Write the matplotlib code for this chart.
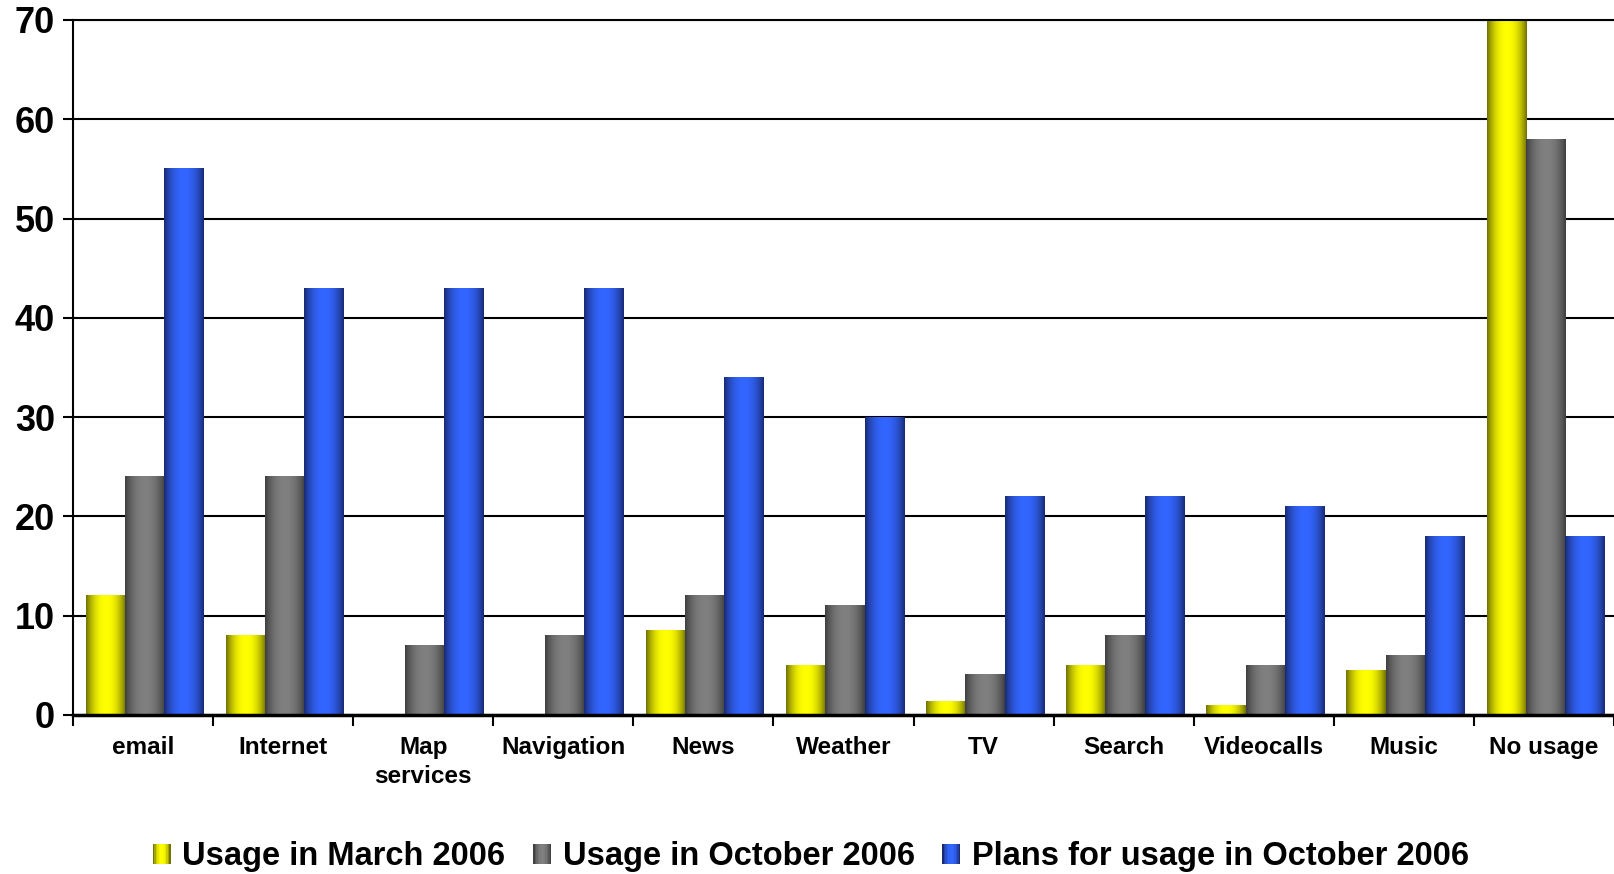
import numpy as np
import matplotlib
matplotlib.use("Agg")
import matplotlib.pyplot as plt
from matplotlib.patches import Rectangle
from matplotlib.legend_handler import HandlerBase
from matplotlib import font_manager

categories = ["email", "Internet", "Map\nservices", "Navigation", "News", "Weather",
              "TV", "Search", "Videocalls", "Music", "No usage"]
march_2006 = [12, 8, 0, 0, 8.5, 5, 1.4, 5, 1, 4.5, 70]
october_2006 = [24, 24, 7, 8, 12, 11, 4.1, 8, 5, 6, 58]
plans_october_2006 = [55, 43, 43, 43, 34, 30, 22, 22, 21, 18, 18]
series_names = ["Usage in March 2006", "Usage in October 2006",
                "Plans for usage in October 2006"]
y_ticks = [0, 10, 20, 30, 40, 50, 60, 70]

# (dark edge, bright centre) for the shaded bars
shades = [((0.45, 0.45, 0.0), (1.0, 1.0, 0.0)),
          ((0.25, 0.25, 0.25), (0.50, 0.50, 0.50)),
          ((0.10, 0.17, 0.46), (0.20, 0.40, 1.0))]

installed = {f.name for f in font_manager.fontManager.ttflist}
base_font = "Liberation Sans" if "Liberation Sans" in installed else "DejaVu Sans"
legend_font = "Liberation Sans Narrow" if "Liberation Sans Narrow" in installed else base_font
plt.rcParams["font.family"] = [base_font, "DejaVu Sans"]


def shade_row(dark, bright, n=64):
    t = np.linspace(0, 1, n)
    f = 1 - np.abs(2 * t - 1) ** 2.2
    dark = np.array(dark)
    bright = np.array(bright)
    return (dark[None, :] + (bright - dark)[None, :] * f[:, None])[None, :, :]


class ShadedHandler(HandlerBase):
    def __init__(self, dark, bright):
        super().__init__()
        self.dark = dark
        self.bright = bright

    def create_artists(self, legend, orig_handle, xdescent, ydescent, width, height,
                       fontsize, trans):
        row = shade_row(self.dark, self.bright, 12)[0]
        n = len(row)
        w = 13.0
        h = 15.0
        x0 = width - w
        y0 = (height - h) / 2 - ydescent
        arts = []
        for i, c in enumerate(row):
            r = Rectangle((x0 + i * w / n, y0), w / n + 0.05, h, facecolor=c,
                          edgecolor="none", transform=trans)
            arts.append(r)
        return arts


fig = plt.figure(figsize=(16.14, 8.74), dpi=100)
ax = fig.add_axes([73 / 1614, 1 - 715 / 874, 1 - 73 / 1614, (715 - 20) / 874])

x = np.arange(len(categories))
bw = 0.28
all_series = [march_2006, october_2006, plans_october_2006]
handles = []
for k, vals in enumerate(all_series):
    bars = ax.bar(x + (k - 1) * bw + 0.01, vals, bw, color="none", edgecolor="none",
                  label=series_names[k], zorder=2)
    handles.append(bars)
    img = shade_row(*shades[k])
    for b in bars:
        h = b.get_height()
        if h <= 0:
            continue
        bx = b.get_x()
        ax.imshow(img, extent=[bx, bx + b.get_width(), 0, h], aspect="auto",
                  interpolation="bilinear", zorder=2)

ax.set_xlim(-0.5, len(categories) - 0.5)
ax.set_ylim(0, 70)
ax.set_aspect("auto")

ax.set_yticks(y_ticks)
ax.set_yticklabels([str(v) for v in y_ticks], fontsize=26, fontweight="bold")
ax.yaxis.grid(True, color="black", linewidth=1.5)
ax.set_axisbelow(True)

ax.set_xticks(x)
ax.set_xticklabels(categories, fontsize=17.5, fontweight="bold", linespacing=1.35)
ax.set_xticks(np.arange(len(categories) + 1) - 0.5, minor=True)
ax.tick_params(axis="x", which="major", length=0, pad=15)
ax.tick_params(axis="x", which="minor", length=8, width=1.5, direction="out")
ax.tick_params(axis="y", length=7, width=1.5, direction="out", pad=6)

ax.spines["right"].set_visible(False)
ax.spines["top"].set_linewidth(1.5)
ax.spines["left"].set_linewidth(1.5)
ax.spines["bottom"].set_linewidth(2.5)

handler_map = {handles[k]: ShadedHandler(*shades[k]) for k in range(3)}
fig.legend(handles, series_names, loc="center", bbox_to_anchor=(810 / 1614, 1 - 857 / 874),
           ncol=3, frameon=False, handler_map=handler_map,
           prop={"family": legend_font, "weight": "bold", "size": 23.5},
           handlelength=0.6, handletextpad=0.35, columnspacing=0.8)

fig.savefig("out.png", dpi=100, facecolor="white")
